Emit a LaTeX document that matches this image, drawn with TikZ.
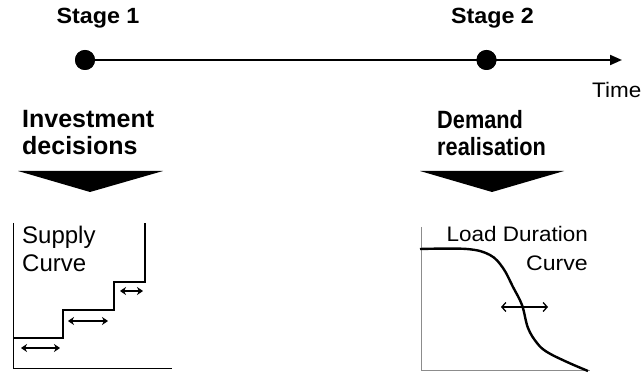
\documentclass[tikz,border=0pt]{standalone}
\usepackage{fontspec}
\setmainfont{Liberation Sans}
\usetikzlibrary{arrows.meta}
\newcommand{\sx}[2]{\scalebox{#1}[1]{#2}}
\begin{document}
\begin{tikzpicture}[x=1pt,y=-1pt,
  dot/.style={circle,fill=black,inner sep=0pt,minimum size=20pt},
  stagelbl/.style={font=\fontsize{22}{26}\selectfont\bfseries,inner sep=0pt,anchor=base},
  phaselbl/.style={font=\fontsize{25}{27}\selectfont\bfseries,inner sep=0pt,align=left,anchor=north west},
  timeline/.style={line width=2pt,-{Triangle[length=12pt,width=10pt]}},
  bigtri/.style={fill=black},
  axis/.style={line width=1pt},
  lightaxis/.style={line width=1pt,draw=black!45},
  stepline/.style={line width=1.2pt},
  dblarrow/.style={line width=1.8pt,{Stealth[length=6pt,width=8pt]}-{Stealth[length=6pt,width=8pt]}},
  barbarrow/.style={line width=1.3pt,{Straight Barb[length=4pt,width=9pt]}-{Straight Barb[length=4pt,width=9pt]}},
  ldc/.style={line width=2.4pt}
]
\useasboundingbox (0,0) rectangle (643,374);

% timeline
\node[dot] (dot1) at (85,60) {};
\node[dot] (dot2) at (486.5,60) {};
\coordinate (tip) at (622,60);
\draw[timeline] (dot1.center) -- (tip);
\node[dot] at (dot1) {};
\node[dot] at (dot2) {};

\node[stagelbl] (s1) at (98,24) {\sx{1.06}{Stage 1}};
\node[stagelbl] (s2) at (492.5,24) {\sx{1.06}{Stage 2}};
\node[anchor=base west,inner sep=0pt,font=\fontsize{21}{25}\selectfont] (time) at (592,98) {\sx{1.07}{Time}};

% phase labels
\node[phaselbl] (inv) at (22,110) {Investment\\decisions};
\node[phaselbl] (dem) at (437,110) {\sx{0.87}{Demand}\\\sx{0.87}{realisation}};

% big downward triangles
\fill[bigtri] (18,171) -- (163,171) -- (90,192) -- cycle;
\fill[bigtri] (420,171) -- (564,171) -- (492,192) -- cycle;

% supply curve
\draw[axis] (13,223) -- (13,368) -- (172,368);
\draw[stepline] (13,338) -- (63,338) -- (63,310) -- (114,310) -- (114,282) -- (145,282) -- (145,223);
\draw[dblarrow] (21,348) -- (60,348);
\draw[dblarrow] (68,321) -- (108,321);
\draw[dblarrow] (120,291) -- (143,291);
\node[inner sep=0pt,align=left,anchor=north west,font=\fontsize{24}{28}\selectfont] (supply) at (22,226) {Supply\\Curve};

% load duration curve
\draw[lightaxis] (421,227) -- (421,370) -- (590,370);
\draw[ldc] plot[smooth,tension=0.6] coordinates {(420,249) (467,249) (490,255) (503,268) (513,287) (522,305) (528,328) (537,343) (547,352) (567,362) (588,371)};
\draw[barbarrow] (501,307) -- (548,307);
\node[inner sep=0pt,align=right,anchor=north east,font=\fontsize{21}{29}\selectfont] (ldclbl) at (588,226) {\sx{1.07}{Load Duration}\\\sx{1.1}{Curve}};
\end{tikzpicture}
\end{document}
